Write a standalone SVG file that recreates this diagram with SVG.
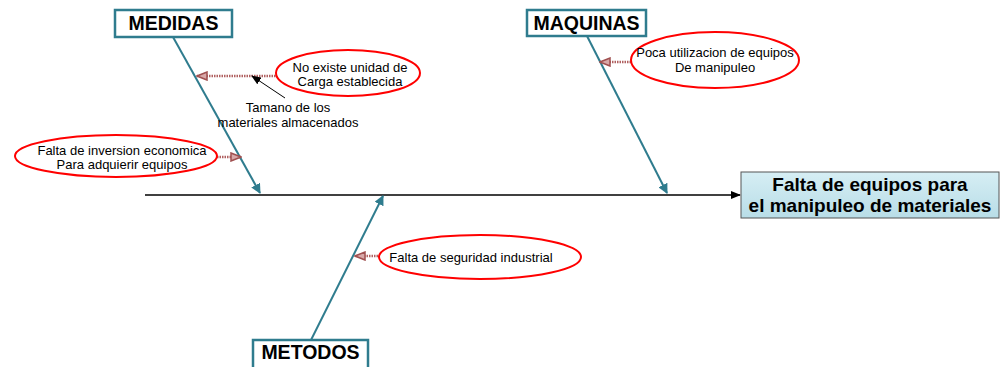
<svg xmlns="http://www.w3.org/2000/svg" width="1004" height="367" viewBox="0 0 1004 367">
<style>
.cat{fill:#fff;stroke:#2f7c8e;stroke-width:2.5}
.cattxt{font-family:"Liberation Sans",Arial,sans-serif;font-weight:bold;font-size:19.5px;fill:#000;text-anchor:middle}
.bone{stroke:#2f7c8e;stroke-width:2;fill:none}
.ell{fill:#fff;stroke:#ff0000;stroke-width:2}
.t{font-family:"Liberation Sans",Arial,sans-serif;font-size:13px;fill:#000;text-anchor:middle}
.red{stroke:#b06060;stroke-width:2.5;stroke-dasharray:1.5 1;fill:none}
.res{font-family:"Liberation Sans",Arial,sans-serif;font-weight:bold;font-size:19px;fill:#000;text-anchor:middle}
</style>
<defs>
<marker id="teal" markerWidth="10" markerHeight="10" refX="9" refY="5" orient="auto" markerUnits="userSpaceOnUse" viewBox="0 0 10 10"><path d="M0,0 L10,5 L0,10 z" fill="#2f7c8e"/></marker>
<marker id="blk" markerWidth="10" markerHeight="8" refX="9" refY="4" orient="auto" markerUnits="userSpaceOnUse" viewBox="0 0 10 8"><path d="M0,0 L10,4 L0,8 z" fill="#000"/></marker>
<marker id="redm" markerWidth="12" markerHeight="10" refX="11" refY="5" orient="auto" markerUnits="userSpaceOnUse" viewBox="0 0 12 10"><path d="M1,1 L11,5 L1,9 z" fill="#d8a8a8" stroke="#a05050" stroke-width="1.5"/></marker>
<linearGradient id="g" x1="0" y1="0" x2="0" y2="1"><stop offset="0" stop-color="#d6eef4"/><stop offset="1" stop-color="#b8dde7"/></linearGradient>
</defs>
<g id="connectors">
<line x1="145" y1="195" x2="740" y2="195" stroke="#000" stroke-width="1.5" marker-end="url(#blk)"/>
<line class="bone" x1="173" y1="37" x2="260" y2="193" marker-end="url(#teal)"/>
<line class="bone" x1="587" y1="36" x2="667" y2="193" marker-end="url(#teal)"/>
<line class="bone" x1="311" y1="340" x2="383" y2="196" marker-end="url(#teal)"/>
<line class="red" x1="288" y1="76" x2="197" y2="76" marker-end="url(#redm)"/>
<line class="red" x1="217" y1="157" x2="241" y2="157" marker-end="url(#redm)"/>
<line class="red" x1="631" y1="62" x2="600" y2="62" marker-end="url(#redm)"/>
<line class="red" x1="378" y1="256" x2="355" y2="256" marker-end="url(#redm)"/>
<line x1="285" y1="98" x2="252" y2="76" stroke="#000" stroke-width="1" marker-end="url(#blk)"/>
</g>
<g id="medidas"><rect class="cat" x="115" y="10" width="117" height="27"/><text class="cattxt" x="173.5" y="30">MEDIDAS</text></g>
<g id="maquinas"><rect class="cat" x="527" y="10" width="119" height="26"/><text class="cattxt" x="586.5" y="30">MAQUINAS</text></g>
<g id="metodos"><rect class="cat" x="253" y="340" width="115" height="30"/><text class="cattxt" x="310.5" y="359">METODOS</text></g>
<g id="resultado"><rect x="741" y="172" width="258" height="46" fill="url(#g)" stroke="#555" stroke-width="1"/><text class="res" x="870" y="191">Falta de equipos para</text><text class="res" x="870" y="212">el manipuleo de materiales</text></g>
<g id="no-existe"><ellipse class="ell" cx="348" cy="73" rx="72" ry="23"/><text class="t" x="350" y="72">No existe unidad de</text><text class="t" x="350" y="86">Carga establecida</text></g>
<g id="tamano"><text class="t" x="288" y="112">Tamano de los</text><text class="t" x="288" y="127">materiales almacenados</text></g>
<g id="falta-inversion"><ellipse class="ell" cx="116" cy="156" rx="101" ry="21"/><text class="t" x="122" y="155">Falta de inversion economica</text><text class="t" x="122" y="169">Para adquierir equipos</text></g>
<g id="poca"><ellipse class="ell" cx="715" cy="60" rx="84" ry="28"/><text class="t" x="715" y="57">Poca utilizacion de equipos</text><text class="t" x="715" y="72">De manipuleo</text></g>
<g id="seguridad"><ellipse class="ell" cx="480" cy="257" rx="101" ry="22"/><text class="t" x="471" y="262">Falta de seguridad industrial</text></g>
</svg>
